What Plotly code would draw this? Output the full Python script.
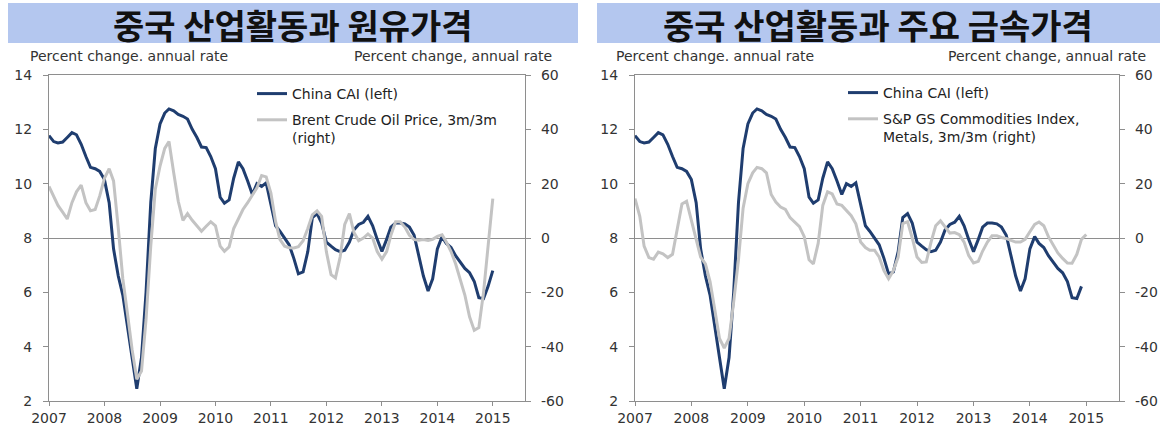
import pandas as pd
import plotly.graph_objects as go

# ---------------- data (monthly, Jan 2007 onward) ----------------
cai = [11.77, 11.55, 11.5, 11.53, 11.7, 11.88, 11.8, 11.45, 11.0, 10.6, 10.55, 10.45,
       10.15, 9.3, 7.6, 6.6, 5.9, 4.8, 3.6, 2.45, 3.6, 6.0, 9.3, 11.3,
       12.2, 12.6, 12.75, 12.68, 12.55, 12.48, 12.38, 12.0, 11.7, 11.35, 11.33, 11.0,
       10.55, 9.5, 9.28, 9.4, 10.2, 10.8, 10.55, 10.1, 9.6, 10.0, 9.9, 10.03,
       9.2, 8.45, 8.25, 8.0, 7.75, 7.25, 6.68, 6.75, 7.5, 8.75, 8.9, 8.55,
       7.85, 7.7, 7.57, 7.5, 7.55, 7.85, 8.3, 8.5, 8.58, 8.8, 8.45, 7.95,
       7.5, 7.95, 8.4, 8.55, 8.55, 8.52, 8.4, 8.1, 7.3, 6.6, 6.05, 6.5,
       7.6, 8.05, 7.8, 7.65, 7.35, 7.1, 6.88, 6.72, 6.4, 5.8, 5.77, 6.22, 6.8]

brent = [19, 15.5, 12, 9.5, 7, 13, 17, 19.5, 13, 10, 10.5, 15.5,
         22, 25.5, 21, 3.7, -15, -28, -41, -52, -49, -30, -3, 18,
         26.5, 33, 35.5, 24, 13.5, 6.5, 9, 6.5, 4.3, 2.5, 4.3, 6,
         4.5, -3, -4.9, -3.3, 3.5, 7, 10.5, 13, 16, 18.5, 23, 22.5,
         16.5, 6, -0.5, -3, -3.6, -3.7, -3.2, -1, 3.5, 8.5, 10, 8,
         -5, -13.5, -14.7, -7, 5, 9, 2, -1, 0, 1.5, 0, -5,
         -7.8, -5, 1, 6, 6, 4, 1, -0.6, -0.8, -0.6, -0.9, -0.5,
         0.6, 1.2, -1.5, -5, -9.5, -15, -21, -29, -34, -33, -20, -3, 14.5]

metals = [14.5, 8, -3, -7.2, -7.8, -5.2, -5.8, -7.2, -6, 3, 12.5, 13.5,
          6.5, -1.5, -7, -9.5, -16, -26.5, -37, -40.5, -37, -23.5, -8, 11,
          20, 24, 26, 25.5, 24, 16, 13.2, 11.4, 10.5, 7.5, 5.8, 4.2,
          0.5, -8, -9.5, -2, 12, 17, 16.2, 12.5, 12, 10.2, 8.2, 5.2,
          -1.5, -3.5, -4.5, -4.5, -7, -12, -15, -12, -7, 5.3, 6, 0,
          -7, -9, -8.8, -1.5, 4.5, 6.3, 4, 1.8, 2, 1.2, -1.5, -6.5,
          -9.2, -8.6, -4.8, -1.5, 0.8, 0.8, 0.2, -0.2, -0.9, -1.5, -1.5, -0.5,
          2.3, 5, 5.9, 4.5, 0.5, -2.5, -5.5, -7.5, -9.2, -9.3, -6, -0.5, 1.3]

cai_points_right = 96  # right panel shows one month less of CAI

year_ticks = [str(y) for y in range(2007, 2016)]
left_ticks = [2, 4, 6, 8, 10, 12, 14]
right_ticks = [-60, -40, -20, 0, 20, 40, 60]
right_tick_text = ["-60", "-40", "-20", "0", "20", "40", "60"]

titles = ["중국 산업활동과 원유가격", "중국 산업활동과 주요 금속가격"]
left_unit = "Percent change. annual rate"
right_unit = "Percent change, annual rate"
name_cai = "China CAI (left)"
name_brent = "Brent Crude Oil Price, 3m/3m<br>(right)"
name_metals = "S&P GS Commodities Index,<br>Metals, 3m/3m (right)"

# ---------------- figure ----------------
W, H = 1166, 425
def fx(p): return p / W
def fy(p): return 1 - p / H

dates = pd.date_range("2007-01-01", periods=len(cai), freq="MS")

NAVY = "#1f3d6f"
GREY = "#c3c3c3"
AXC = "#8e8e8e"
TXT = "#333333"
FONT = "DejaVu Sans"

fig = go.Figure()
fig.add_trace(go.Scatter(x=dates, y=cai, name=name_cai, mode="lines",
                         line=dict(color=NAVY, width=3), xaxis="x", yaxis="y",
                         legend="legend", legendgroup="a"))
fig.add_trace(go.Scatter(x=dates, y=brent, name=name_brent, mode="lines",
                         line=dict(color=GREY, width=3), xaxis="x", yaxis="y2",
                         legend="legend", legendgroup="b"))
fig.add_trace(go.Scatter(x=dates[:cai_points_right], y=cai[:cai_points_right], name=name_cai,
                         mode="lines", line=dict(color=NAVY, width=3), xaxis="x2", yaxis="y3",
                         legend="legend2", legendgroup="c"))
fig.add_trace(go.Scatter(x=dates[:len(metals)], y=metals, name=name_metals, mode="lines",
                         line=dict(color=GREY, width=3), xaxis="x2", yaxis="y4",
                         legend="legend2", legendgroup="d"))

tickfont = dict(family=FONT, size=14, color=TXT)
base = dict(showline=True, linecolor=AXC, linewidth=1.3, ticks="outside", ticklen=5,
            tickcolor=AXC, tickwidth=1.2, tickfont=tickfont, showgrid=False,
            zeroline=False, automargin=False, fixedrange=True)

xvals = [pd.Timestamp(f"{y}-01-01") for y in year_ticks]
ydom = [fy(401), fy(75)]

def xax(dom, anchor):
    return dict(base, domain=dom, anchor=anchor, type="date",
                range=["2007-01-01", "2015-08-01"], tickvals=xvals, ticktext=year_ticks,
                mirror=True, ticklen=4, ticklabelstandoff=0)

def yl(dom, anchor):
    return dict(base, domain=dom, anchor=anchor, range=[2, 14], tickvals=left_ticks,
                ticktext=[str(v) for v in left_ticks], side="left", ticklabelstandoff=8)

def yr(over, anchor):
    return dict(base, overlaying=over, anchor=anchor, side="right", range=[-60, 60],
                tickvals=right_ticks, ticktext=right_tick_text, zeroline=True,
                zerolinecolor=AXC, zerolinewidth=1.3, ticklabelstandoff=7)

legend_common = dict(xanchor="left", yanchor="top", bgcolor="rgba(0,0,0,0)",
                     font=dict(family=FONT, size=14, color="#222222"), valign="top",
                     tracegroupgap=5, borderwidth=0)

fig.update_layout(
    width=W, height=H, margin=dict(l=0, r=0, t=0, b=0),
    paper_bgcolor="white", plot_bgcolor="rgba(0,0,0,0)",
    xaxis=xax([fx(49), fx(525)], "y"),
    yaxis=yl(ydom, "x"),
    yaxis2=yr("y", "x"),
    xaxis2=xax([fx(635), fx(1119)], "y3"),
    yaxis3=yl(ydom, "x2"),
    yaxis4=yr("y3", "x2"),
    legend=dict(legend_common, x=fx(252), y=fy(78)),
    legend2=dict(legend_common, x=fx(843), y=fy(77)),
    showlegend=True,
)

# title banners
for x0, x1 in [(8, 578), (597, 1160)]:
    fig.add_shape(type="rect", xref="paper", yref="paper", x0=fx(x0), x1=fx(x1),
                  y0=fy(43), y1=fy(3), fillcolor="#b4c7ef", line=dict(width=0), layer="below")
for (x0, x1), t in zip([(8, 578), (597, 1160)], titles):
    fig.add_annotation(text=t, xref="paper", yref="paper", x=fx((x0 + x1) / 2), y=fy(24),
                       xanchor="center", yanchor="middle", showarrow=False, borderpad=0,
                       font=dict(family="Noto Sans CJK KR", size=34, color="#111111", weight="bold"))

# axis unit labels
for xpos, anchor, txt in [(28, "left", left_unit), (554, "right", right_unit),
                          (614, "left", left_unit), (1148, "right", right_unit)]:
    fig.add_annotation(text=txt, xref="paper", yref="paper", x=fx(xpos), y=fy(56),
                       xanchor=anchor, yanchor="middle", showarrow=False,
                       font=dict(family=FONT, size=14, color=TXT))

fig.write_html("out.html", config={"displayModeBar": False},
               post_script="document.body.style.margin='0px';")
